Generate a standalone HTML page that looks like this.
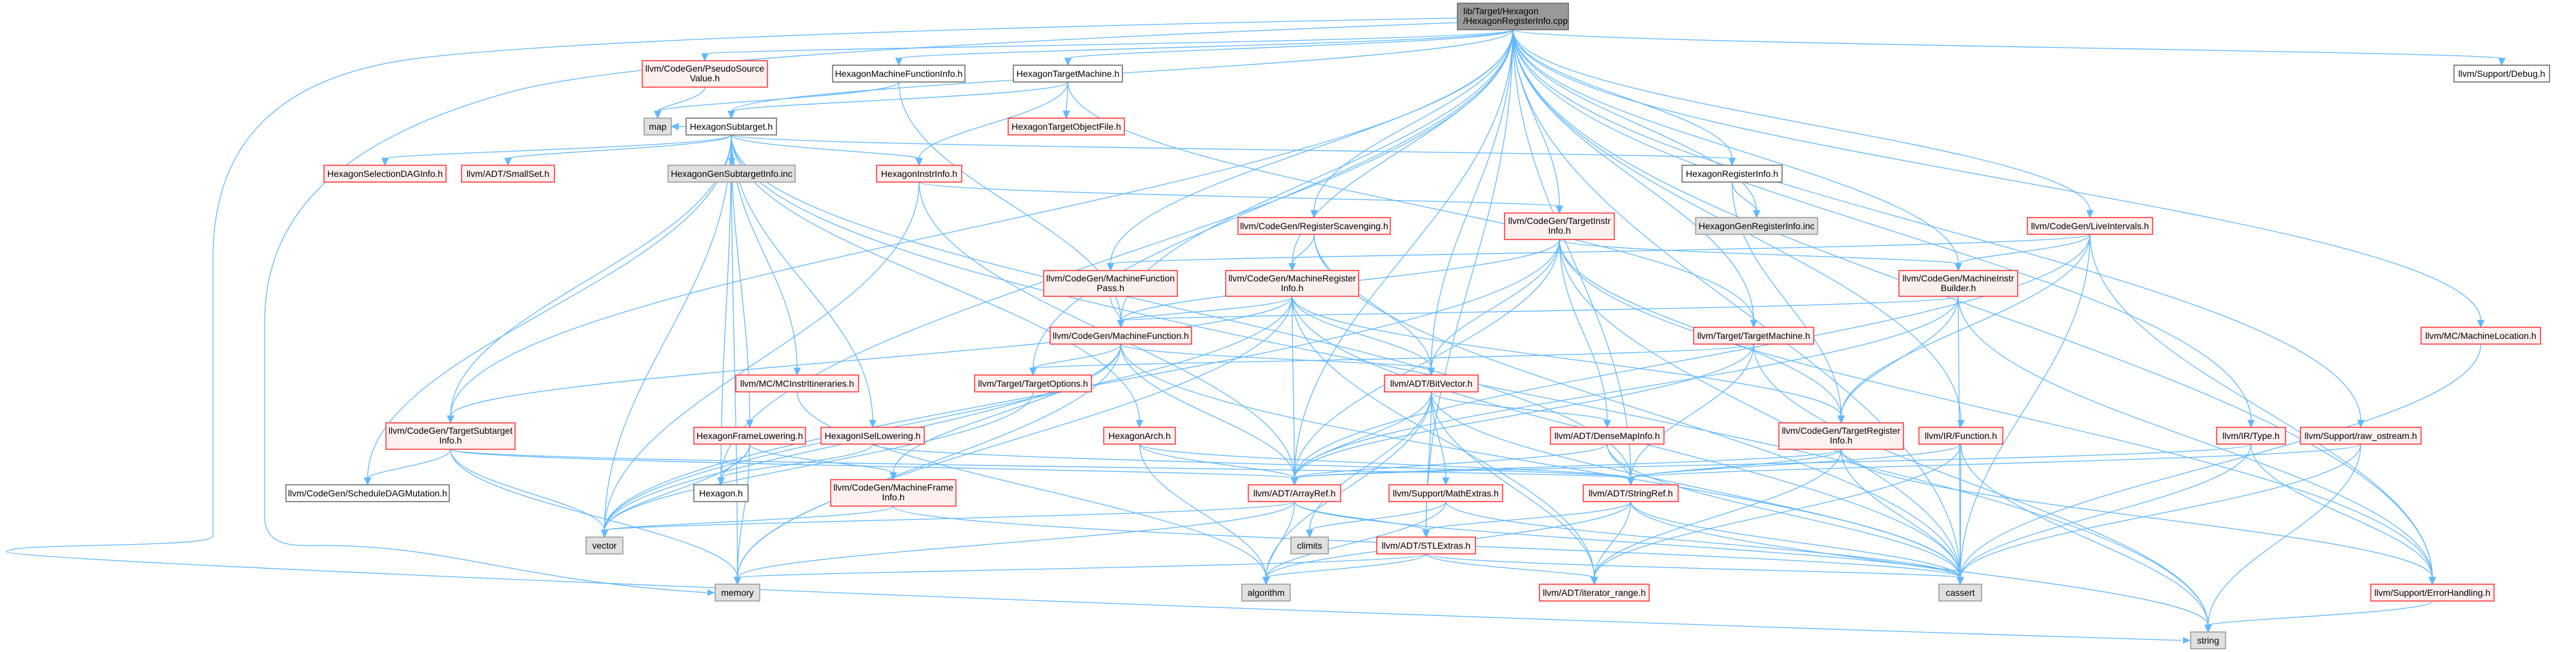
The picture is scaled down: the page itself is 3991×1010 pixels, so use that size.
<!DOCTYPE html>
<html><head><meta charset="utf-8"><style>
html,body{margin:0;padding:0;background:#fff;}
svg{display:block;}
text{font-family:"Liberation Sans",Arial,sans-serif;font-size:14px;fill:#000;}
</style></head><body>
<svg id="g" width="3991" height="1010" xmlns="http://www.w3.org/2000/svg">
<path d="M2258,28 C1600,40 900,60 650,90 C400,120 330,250 330,400 L330,830 C330,850 10,840 10,855 C10,870 2000,950 3380,992" fill="none" stroke="#63b8ff" stroke-width="1.3"/>
<polygon points="3394,992 3382,987 3382,997" fill="#63b8ff"/>
<path d="M2258,35 C1600,60 1000,90 800,140 C500,220 410,350 410,500 L410,800 C410,850 460,845 500,845 C700,845 800,900 1095,918" fill="none" stroke="#63b8ff" stroke-width="1.3"/>
<polygon points="1108,918 1096,913 1096,923" fill="#63b8ff"/>
</svg>
<script>
var N={
root:[2258,5,2430,46,'k',['lib/Target/Hexagon','/HexagonRegisterInfo.cpp']],
psv:[995,94,1189,135,'r',['llvm/CodeGen/PseudoSource','Value.h']],
hmfi:[1290,101,1495,127,'w',['HexagonMachineFunctionInfo.h']],
htm:[1570,101,1739,127,'w',['HexagonTargetMachine.h']],
dbg:[3802,101,3950,127,'w',['llvm/Support/Debug.h']],
map:[998,183,1040,209,'g',['map']],
hst:[1063,183,1203,209,'w',['HexagonSubtarget.h']],
htof:[1562,183,1742,209,'r',['HexagonTargetObjectFile.h']],
sdag:[502,256,691,282,'r',['HexagonSelectionDAGInfo.h']],
sset:[715,256,859,282,'r',['llvm/ADT/SmallSet.h']],
gsti:[1035,256,1232,282,'g',['HexagonGenSubtargetInfo.inc']],
hii:[1358,256,1490,282,'r',['HexagonInstrInfo.h']],
hri:[2606,256,2761,282,'w',['HexagonRegisterInfo.h']],
rs:[1918,337,2154,363,'r',['llvm/CodeGen/RegisterScavenging.h']],
tii:[2331,330,2501,371,'r',['llvm/CodeGen/TargetInstr','Info.h']],
gri:[2627,337,2816,363,'g',['HexagonGenRegisterInfo.inc']],
li:[3141,337,3335,363,'r',['llvm/CodeGen/LiveIntervals.h']],
mfp:[1617,419,1824,459,'r',['llvm/CodeGen/MachineFunction','Pass.h']],
mri:[1899,419,2105,459,'r',['llvm/CodeGen/MachineRegister','Info.h']],
mib:[2942,419,3126,459,'r',['llvm/CodeGen/MachineInstr','Builder.h']],
mloc:[3751,507,3936,533,'r',['llvm/MC/MachineLocation.h']],
mf:[1627,507,1846,533,'r',['llvm/CodeGen/MachineFunction.h']],
tm:[2624,507,2810,533,'r',['llvm/Target/TargetMachine.h']],
mcii:[1140,581,1330,607,'r',['llvm/MC/MCInstrItineraries.h']],
to:[1510,581,1691,607,'r',['llvm/Target/TargetOptions.h']],
bv:[2145,581,2290,607,'r',['llvm/ADT/BitVector.h']],
tsi:[598,655,798,696,'r',['llvm/CodeGen/TargetSubtarget','Info.h']],
hfl:[1075,662,1248,688,'r',['HexagonFrameLowering.h']],
hisl:[1272,662,1432,688,'r',['HexagonISelLowering.h']],
ha:[1710,662,1821,688,'r',['HexagonArch.h']],
dmi:[2402,662,2578,688,'r',['llvm/ADT/DenseMapInfo.h']],
tri:[2756,655,2949,696,'r',['llvm/CodeGen/TargetRegister','Info.h']],
fn:[2973,662,3103,688,'r',['llvm/IR/Function.h']],
ty:[3434,662,3541,688,'r',['llvm/IR/Type.h']],
ro:[3564,662,3751,688,'r',['llvm/Support/raw_ostream.h']],
sdm:[443,751,696,777,'w',['llvm/CodeGen/ScheduleDAGMutation.h']],
hex:[1075,751,1159,777,'w',['Hexagon.h']],
mfi:[1287,743,1481,784,'r',['llvm/CodeGen/MachineFrame','Info.h']],
ar:[1934,751,2077,777,'r',['llvm/ADT/ArrayRef.h']],
me:[2152,751,2328,777,'r',['llvm/Support/MathExtras.h']],
sr:[2453,751,2600,777,'r',['llvm/ADT/StringRef.h']],
vec:[908,832,965,858,'g',['vector']],
cl:[2000,832,2058,858,'g',['climits']],
stl:[2133,832,2286,858,'r',['llvm/ADT/STLExtras.h']],
mem:[1108,905,1177,931,'g',['memory']],
alg:[1924,905,1999,931,'g',['algorithm']],
ir:[2385,905,2555,931,'r',['llvm/ADT/iterator_range.h']],
ca:[3004,905,3070,931,'g',['cassert']],
eh:[3673,905,3864,931,'r',['llvm/Support/ErrorHandling.h']],
str:[3394,979,3448,1005,'g',['string']]
};
var E={
root:['psv','hmfi','htm','dbg','hst','hri','rs','tii','gri','li','mfp','mri','mib','mloc','mf','tm','to','bv','fn','ty','ro','eh','stl','hex','ca','ar','sr','tsi'],
psv:['map'],hmfi:['map','mf'],htm:['hst','htof','hii','tm'],
hst:['map','sdag','sset','gsti','hii','hri','hfl','hisl','ha','tsi','sdm','mcii','vec','mem','str','sr','hex'],
hii:['tii','vec','ar'],hri:['gri','tri'],rs:['mri','bv','ca'],
tii:['mf','mib','dmi','ar','bv','ca','eh','tri','vec'],
li:['mfp','tri','ar','ca','eh','mib'],mfp:['mf'],
mri:['mf','bv','ar','tsi','tri','ir','vec','mem','ca'],
mib:['mf','tri','eh','ca','ar'],mloc:['ca'],
mf:['to','bv','ar','mem','ca','vec','mfi'],tm:['to','sr','str','ar'],
mcii:['alg'],to:['vec'],
bv:['ar','dmi','me','stl','ir','alg','cl','ca'],
tsi:['sdm','vec','mem','ar','sr'],hfl:['hex','mfi','vec','mem'],hisl:['hex','sr'],ha:['ar','alg','sr'],
dmi:['sr','ar','ca'],tri:['ar','sr','ir','ca','eh'],fn:['sr','ca','ir','str'],
ty:['ar','ca','eh'],ro:['sr','ca','str'],mfi:['vec','ca'],
ar:['stl','alg','vec','mem','ca'],me:['cl','alg','ca'],
sr:['stl','ir','alg','ca','str'],stl:['ir','alg','mem','ca'],eh:['str']
};
var NS='http://www.w3.org/2000/svg',svg=document.getElementById('g');
function el(t,a){var e=document.createElementNS(NS,t);for(var k in a)e.setAttribute(k,a[k]);svg.appendChild(e);return e;}
var col='#63b8ff';
for(var s in E){E[s].forEach(function(t){
 var a=N[s],b=N[t],ang;
 var sx=(a[0]+a[2])/2,sy=a[3],tx=(b[0]+b[2])/2,ty=b[1];
 if(b[1]<=a[3]){
   if(b[0]>a[2]){sx=a[2];sy=(a[1]+a[3])/2;tx=b[0];ty=(b[1]+b[3])/2;ang=0;}
   else{sx=a[0];sy=(a[1]+a[3])/2;tx=b[2];ty=(b[1]+b[3])/2;ang=Math.PI;}
   var mx=(sx+tx)/2;
   var ex=tx-11*Math.cos(ang);
   el('path',{d:'M'+sx+','+sy+' C'+mx+','+sy+' '+mx+','+ty+' '+ex+','+ty,fill:'none',stroke:col,'stroke-width':1.3});
 } else {
   var dy=ty-sy;
   el('path',{d:'M'+sx+','+sy+' C'+sx+','+(sy+dy*0.4)+' '+tx+','+(ty-dy*0.4)+' '+tx+','+(ty-10),fill:'none',stroke:col,'stroke-width':1.3});
   ang=Math.PI/2;
 }
 var L=11,W=5;
 var bx=tx-L*Math.cos(ang),by=ty-L*Math.sin(ang);
 var px=-Math.sin(ang)*W,py=Math.cos(ang)*W;
 el('polygon',{points:tx+','+ty+' '+(bx+px)+','+(by+py)+' '+(bx-px)+','+(by-py),fill:col,stroke:col});
});}
for(var k in N){var n=N[k];
 var st={r:['#fff0f0','#ff3030'],w:['#ffffff','#666666'],g:['#e0e0e0','#999999'],k:['#999999','#666666']}[n[4]];
 el('rect',{x:n[0],y:n[1],width:n[2]-n[0],height:n[3]-n[1],fill:st[0],stroke:st[1],'stroke-width':1.5});
 var cx=(n[0]+n[2])/2,lines=n[5];
 if(n[4]=='k'){lines.forEach(function(l,i){var t=el('text',{x:n[0]+9,y:n[1]+17+i*15});t.textContent=l;});}
 else if(lines.length==1){var t=el('text',{x:cx,y:n[1]+18,'text-anchor':'middle'});t.textContent=lines[0];}
 else{lines.forEach(function(l,i){var t=el('text',{x:cx,y:n[1]+17+i*15,'text-anchor':'middle'});t.textContent=l;});}
}
</script>
</body></html>
